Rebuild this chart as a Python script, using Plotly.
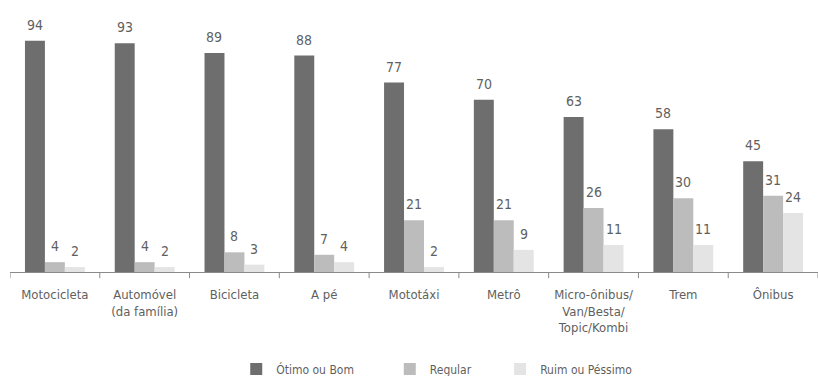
import plotly.graph_objects as go

# Avaliação dos meios de transporte (%)
categorias = [
    "Motocicleta",
    "Automóvel<br>(da família)",
    "Bicicleta",
    "A pé",
    "Mototáxi",
    "Metrô",
    "Micro-ônibus/<br>Van/Besta/<br>Topic/Kombi",
    "Trem",
    "Ônibus",
]
otimo_bom = [94, 93, 89, 88, 77, 70, 63, 58, 45]
regular = [4, 4, 8, 7, 21, 21, 26, 30, 31]
ruim_pessimo = [2, 2, 3, 4, 2, 9, 11, 11, 24]

series = [
    ("Ótimo ou Bom" + "\u00a0" * 9, otimo_bom, "#6e6e6e"),
    ("Regular" + "\u00a0" * 7, regular, "#bcbcbc"),
    ("Ruim ou Péssimo", ruim_pessimo, "#e4e4e4"),
]

TEXT = "#5f5f5f"
FONT = "DejaVu Sans Condensed, Liberation Sans Narrow, sans-serif"
BARGAP = 1 / 3
n_series = len(series)
bar_w = (1 - BARGAP) / n_series

fig = go.Figure()
annotations = []
for k, (nome, valores, cor) in enumerate(series):
    fig.add_trace(go.Bar(
        name=nome,
        x=list(range(len(categorias))),
        y=valores,
        marker=dict(color=cor, line=dict(width=0)),
    ))
    off = (k - (n_series - 1) / 2) * bar_w
    for i, v in enumerate(valores):
        annotations.append(dict(
            x=i + off, y=v, xref="x", yref="y",
            text=str(v), showarrow=False,
            yanchor="bottom", yshift=6,
            font=dict(family=FONT, size=14, color=TEXT),
        ))

fig.update_layout(
    width=818, height=376,
    margin=dict(l=10, r=0, t=26, b=104, autoexpand=False),
    paper_bgcolor="white", plot_bgcolor="white",
    barmode="group", bargap=BARGAP, bargroupgap=0,
    font=dict(family=FONT, size=13, color=TEXT),
    annotations=annotations,
    showlegend=True,
    legend=dict(
        orientation="h", x=0.28, xanchor="left", y=-0.335, yanchor="top",
        font=dict(family=FONT, size=12, color=TEXT),
        itemwidth=30, traceorder="normal",
    ),
    xaxis=dict(
        range=[-0.5, 8.5],
        tickmode="array",
        tickvals=list(range(len(categorias))),
        ticktext=categorias,
        showline=True, linecolor="#8a8a8a", linewidth=1,
        ticks="", showgrid=False, zeroline=False,
        tickfont=dict(family=FONT, size=13, color=TEXT),
        ticklabelstandoff=10,
        automargin=False,
        fixedrange=True,
    ),
    yaxis=dict(
        range=[0, 100], visible=False, showgrid=False, zeroline=False,
        fixedrange=True,
    ),
)

# Marcas de divisão entre categorias no eixo horizontal
fig.update_layout(shapes=[
    dict(type="line", xref="x", yref="paper",
         x0=b, x1=b, y0=0, y1=-0.025,
         line=dict(color="#8a8a8a", width=1))
    for b in [i - 0.5 for i in range(len(categorias) + 1)]
])

fig.write_html("out.html")
